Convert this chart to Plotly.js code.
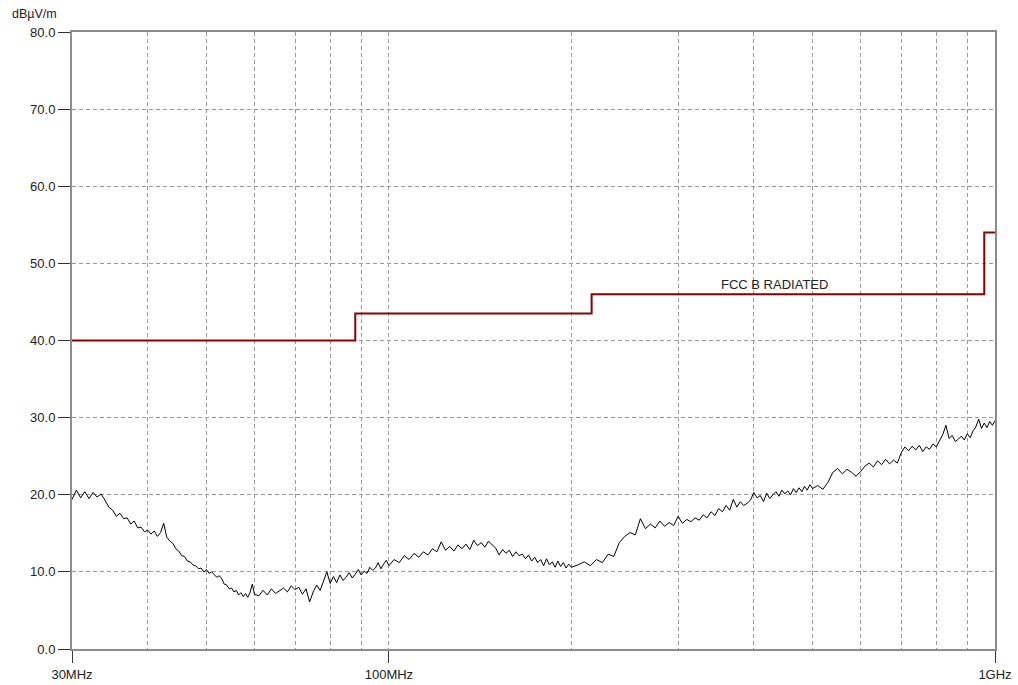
<!DOCTYPE html>
<html>
<head>
<meta charset="utf-8">
<script src="https://cdn.plot.ly/plotly-3.0.1.min.js"></script>
<style>html,body{margin:0;padding:0;background:#fff;}#chart{width:1018px;height:685px;}</style>
</head>
<body>
<div id="chart"></div>
<script>
// Measured emission trace (frequency in MHz, level in dBµV/m)
const freqA = [30,30.5,31,31.5,32,32.5,33,33.5,34,34.5,35,35.5,36,36.5,37,37.5,38,38.5,39,39.5,40,40.5,41,41.5,42,42.5,43,43.5,44,44.5,45,45.5,46,46.5,47,47.5,48,48.5,49,49.5,50,50.5,51,51.5,52,52.5,53,53.5,54,54.5,55,55.5,56,56.5,57,57.5,58,58.5,59,59.5,60];
const levelA = [19.4,20.6,19.6,20.4,19.5,20.3,19.7,20.1,19.3,18.4,18.0,17.2,17.6,16.9,17.0,16.2,16.6,15.7,15.8,15.2,15.4,14.9,15.3,14.6,15.1,16.3,14.5,14.0,13.7,13.0,12.7,12.1,12.0,11.4,11.3,10.9,10.8,10.4,10.5,10.0,10.3,9.8,10.0,9.6,9.3,9.5,9.1,8.4,8.3,7.8,7.9,7.4,7.6,7.0,7.3,6.8,7.2,6.7,7.3,8.4,7.1];
const freqB = [61,62,63,64,65,66,67,68,69,70,71,72,73,74,75,76,77,78,79,80,81,82,83,84,85,86,87,88,89,90,91,92,93,94,95,96,97,98,99,100];
const levelB = [6.9,7.6,7.0,7.8,7.2,7.5,7.9,7.4,8.2,7.7,8.0,7.1,7.8,6.1,7.4,8.3,7.6,8.8,10.0,8.5,9.4,8.6,9.6,8.9,9.3,9.9,9.2,9.7,10.3,9.6,10.1,9.8,10.6,10.2,10.5,11.2,10.4,11.0,11.5,10.8];
const freqC = [102,104,106,108,110,112,114,116,118,120,122,124,126,128,130,132,134,136,138,140,142,144,146,148,150,152,154,156,158,160,162,164,166,168,170,172,174,176,178,180,182,184,186,188,190,192,194,196,198,200];
const levelC = [11.6,11.2,12.1,11.6,12.4,11.9,12.6,12.2,13.0,12.6,13.9,12.8,13.3,12.7,13.5,13.0,13.6,12.9,14.1,13.4,13.8,13.2,14.0,13.5,13.1,12.2,12.9,12.4,12.8,12.0,12.6,12.1,12.3,11.7,12.2,11.4,11.9,11.2,11.6,10.8,11.7,10.9,11.3,10.6,11.4,10.7,11.2,10.5,11.0,10.6];
const freqD = [205,210,215,220,225,230,235,240,245,250,255,260,265,270,275,280,285,290,295,300,305,310,315,320,325,330,335,340,345,350,355,360,365,370,375,380,385,390,395,400,405,410,415,420,425,430,435,440,445,450,455,460,465,470,475,480,485,490,495,500];
const levelD = [10.9,11.3,10.8,11.6,11.2,12.3,12.0,13.8,14.6,15.1,14.8,16.9,15.6,16.2,15.7,16.6,15.9,16.4,16.0,17.2,16.3,16.8,16.5,17.0,16.7,17.4,17.0,17.8,17.3,18.2,17.8,18.6,18.0,19.4,18.4,19.1,18.6,18.9,19.3,20.3,19.6,19.9,19.1,20.2,19.5,20.0,20.4,19.8,20.6,20.1,20.5,20.0,20.8,20.3,20.9,20.4,21.1,20.6,21.3,20.8];
const freqE = [510,520,530,540,550,560,570,580,590,600,610,620,630,640,650,660,670,680,690,700,710,720,730,740,750,760,770,780,790,800,810,820,830,840,850,860,870,880,890,900,910,920,930,940,950,960,970,980,990,1000];
const levelE = [21.2,20.7,21.6,22.9,23.4,22.7,23.3,22.9,22.4,23.0,23.7,24.1,23.6,24.4,23.9,24.6,24.0,24.5,24.1,25.4,26.2,25.7,26.3,25.8,26.4,25.6,26.2,25.9,26.6,26.2,27.0,27.8,29.0,27.3,27.7,26.9,27.2,27.6,27.1,27.9,27.4,28.3,28.8,29.8,28.6,29.3,28.7,29.5,29.0,29.6];

// FCC Class B radiated limit (step line)
const limitFreq = [30,88,88,216,216,960,960,1000];
const limitLevel = [40,40,43.5,43.5,46,46,54,54];
const limitName = 'FCC B RADIATED';

// Axis ticks
const xMajorVals = [30,100,1000];
const xMajorText = ['30MHz','100MHz','1GHz'];
const xMinorVals = [40,50,60,70,80,90,200,300,400,500,600,700,800,900];
const yUnit = 'dBµV/m';

const measFreq = freqA.concat(freqB, freqC, freqD, freqE);
const measLevel = levelA.concat(levelB, levelC, levelD, levelE);

const fontFam = '"Liberation Sans", Arial, sans-serif';

const traces = [
  {x: limitFreq, y: limitLevel, type: 'scatter', mode: 'lines', line: {color: '#8b0000', width: 2}, hoverinfo: 'skip'},
  {x: measFreq, y: measLevel, type: 'scatter', mode: 'lines', line: {color: '#000000', width: 1}, hoverinfo: 'skip'}
];

const layout = {
  width: 1018, height: 685,
  margin: {l: 72, r: 23, t: 32, b: 36, pad: 0},
  paper_bgcolor: '#ffffff', plot_bgcolor: '#ffffff',
  showlegend: false,
  font: {family: fontFam, size: 13, color: '#222'},
  xaxis: {
    type: 'log',
    range: [Math.log10(30), Math.log10(1000)],
    tickmode: 'array', tickvals: xMajorVals, ticktext: xMajorText,
    ticks: 'outside', ticklen: 12, tickcolor: '#333', tickwidth: 1,
    tickfont: {family: fontFam, size: 13, color: '#222'},
    showgrid: true, gridcolor: '#9a9a9a', griddash: '4px,3px', gridwidth: 1,
    minor: {tickmode: 'array', tickvals: xMinorVals, ticks: '', showgrid: true, gridcolor: '#9a9a9a', griddash: '4px,3px', gridwidth: 1},
    showline: true, mirror: true, linecolor: '#8c8c8c', linewidth: 2,
    zeroline: false, fixedrange: true
  },
  yaxis: {
    range: [0, 80], dtick: 10, tick0: 0, tickformat: '.1f',
    ticks: 'outside', ticklen: 12, tickcolor: '#333', tickwidth: 1,
    tickfont: {family: fontFam, size: 13, color: '#222'},
    showgrid: true, gridcolor: '#9a9a9a', griddash: '4px,3px', gridwidth: 1,
    showline: true, mirror: true, linecolor: '#8c8c8c', linewidth: 2,
    zeroline: false, fixedrange: true
  },
  annotations: [
    {text: limitName, xref: 'x', yref: 'y', x: Math.log10(432), y: 47.3, showarrow: false,
     font: {family: fontFam, size: 13, color: '#222'}, xanchor: 'center', yanchor: 'middle'},
    {text: yUnit, xref: 'paper', yref: 'paper', x: -0.041, y: 1.029, showarrow: false,
     font: {family: fontFam, size: 12.5, color: '#222'}, xanchor: 'center', yanchor: 'middle'}
  ]
};

Plotly.newPlot('chart', traces, layout, {displayModeBar: false, staticPlot: true});
</script>
</body>
</html>
